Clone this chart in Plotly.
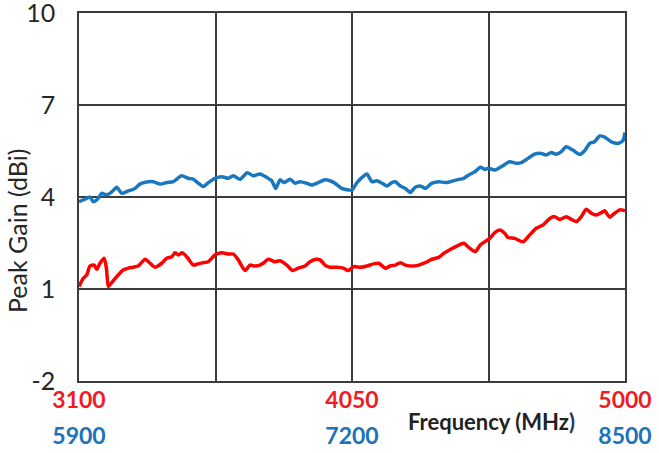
import plotly.graph_objects as go

# band 1 (red) : 3100-5000 MHz
red_freq = [3100, 3115, 3127, 3138, 3153, 3162, 3173, 3188, 3196, 3202,
            3214, 3231, 3254, 3272, 3289, 3306, 3330, 3347, 3364, 3388,
            3405, 3423, 3434, 3446, 3459, 3475, 3498, 3515, 3533, 3550,
            3573, 3597, 3620, 3637, 3654, 3678, 3695, 3712, 3730, 3741,
            3759, 3782, 3799, 3823, 3844, 3863, 3886, 3904, 3925, 3939,
            3956, 3973, 3997, 4020, 4037, 4056, 4079, 4102, 4125, 4143,
            4166, 4183, 4201, 4218, 4236, 4259, 4282, 4305, 4328, 4352,
            4369, 4392, 4415, 4439, 4456, 4479, 4497, 4529, 4547, 4564,
            4582, 4593, 4616, 4645, 4668, 4691, 4715, 4738, 4755, 4773,
            4796, 4813, 4831, 4848, 4865, 4883, 4900, 4918, 4929, 4947,
            4964, 4982, 5000]
red_gain = [1.08, 1.35, 1.46, 1.75, 1.78, 1.64, 1.84, 2.00, 1.62, 1.08,
            1.21, 1.40, 1.62, 1.68, 1.71, 1.75, 1.97, 1.84, 1.71, 1.84,
            2.00, 2.05, 2.18, 2.11, 2.18, 2.05, 1.78, 1.82, 1.86, 1.89,
            2.11, 2.18, 2.14, 2.14, 1.95, 1.60, 1.78, 1.75, 1.78, 1.84,
            1.97, 1.89, 1.92, 1.78, 1.60, 1.68, 1.75, 1.89, 1.97, 1.95,
            1.78, 1.71, 1.71, 1.68, 1.60, 1.73, 1.71, 1.75, 1.82, 1.84,
            1.68, 1.75, 1.78, 1.86, 1.78, 1.75, 1.78, 1.86, 1.97, 2.03,
            2.16, 2.29, 2.40, 2.49, 2.36, 2.22, 2.44, 2.65, 2.84, 2.92,
            2.81, 2.68, 2.65, 2.54, 2.76, 2.98, 3.09, 3.30, 3.36, 3.27,
            3.36, 3.27, 3.20, 3.36, 3.60, 3.47, 3.41, 3.49, 3.55, 3.34,
            3.47, 3.58, 3.55]

# band 2 (blue) : 5900-8500 MHz
blue_freq = [5900, 5929, 5952, 5968, 5992, 6008, 6032, 6056, 6080, 6103,
             6135, 6167, 6190, 6222, 6254, 6286, 6318, 6349, 6365, 6389,
             6420, 6444, 6468, 6492, 6516, 6548, 6580, 6611, 6635, 6667,
             6701, 6730, 6762, 6794, 6818, 6837, 6857, 6876, 6905, 6929,
             6952, 6984, 7008, 7040, 7071, 7095, 7119, 7151, 7182, 7200,
             7224, 7248, 7271, 7295, 7319, 7343, 7367, 7390, 7406, 7430,
             7454, 7478, 7501, 7525, 7549, 7581, 7613, 7644, 7668, 7700,
             7732, 7756, 7787, 7811, 7835, 7848, 7880, 7911, 7951, 7982,
             8006, 8038, 8070, 8101, 8125, 8149, 8173, 8197, 8220, 8252,
             8284, 8308, 8332, 8355, 8379, 8403, 8435, 8467, 8490, 8500]
blue_gain = [3.85, 3.93, 4.00, 3.85, 3.96, 4.12, 4.07, 4.17, 4.32, 4.12,
             4.20, 4.28, 4.42, 4.49, 4.50, 4.42, 4.47, 4.50, 4.58, 4.69,
             4.61, 4.58, 4.45, 4.34, 4.47, 4.61, 4.66, 4.61, 4.69, 4.58,
             4.79, 4.69, 4.75, 4.64, 4.53, 4.28, 4.56, 4.47, 4.58, 4.45,
             4.50, 4.45, 4.39, 4.47, 4.56, 4.53, 4.45, 4.28, 4.23, 4.23,
             4.47, 4.64, 4.75, 4.50, 4.53, 4.45, 4.36, 4.47, 4.50, 4.36,
             4.28, 4.15, 4.32, 4.36, 4.28, 4.45, 4.50, 4.47, 4.50, 4.56,
             4.61, 4.72, 4.83, 4.97, 4.90, 4.94, 4.88, 4.99, 5.15, 5.10,
             5.12, 5.26, 5.40, 5.42, 5.37, 5.45, 5.39, 5.48, 5.64, 5.53,
             5.39, 5.51, 5.75, 5.80, 5.99, 5.95, 5.80, 5.75, 5.84, 6.10]

red_ticks = [3100, 3575, 4050, 4525, 5000]
red_labels = ['3100', '', '4050', '', '5000']
blue_ticks = [5900, 7200, 8500]
blue_labels = ['5900', '7200', '8500']
y_ticks = [-2, 1, 4, 7, 10]
y_labels = ['-2', '1', '4', '7', '10']

RED = '#ff0000'
BLUE = '#1a76bd'
GRID = '#3c3c3c'

trace_red = go.Scatter(x=red_freq, y=red_gain, mode='lines',
                       line=dict(color=RED, width=3.5, shape='spline', smoothing=0.6),
                       xaxis='x', yaxis='y')
trace_blue = go.Scatter(x=blue_freq, y=blue_gain, mode='lines',
                        line=dict(color=BLUE, width=3.5, shape='spline', smoothing=0.6),
                        xaxis='x2', yaxis='y')

layout = go.Layout(
    width=659, height=453,
    margin=dict(l=79, r=34, t=13, b=72),
    paper_bgcolor='white', plot_bgcolor='white',
    showlegend=False,
    font=dict(family='Lato', color='#262626'),
    xaxis=dict(range=[3100, 5000], tickvals=red_ticks, ticktext=red_labels,
               showgrid=True, gridcolor=GRID, gridwidth=1.5, zeroline=False,
               showline=True, linecolor=GRID, linewidth=1.5, mirror=True,
               ticks='', ticklabelstandoff=-2, automargin=False,
               ticklabeloverflow='allow',
               tickfont=dict(family='Lato', size=23, color='#ee1c25', weight='bold')),
    xaxis2=dict(range=[5900, 8500], overlaying='x', side='bottom', anchor='y',
                tickvals=blue_ticks, ticktext=blue_labels, showgrid=False,
                zeroline=False, showline=False, ticks='', ticklabelstandoff=39,
                automargin=False, ticklabeloverflow='allow',
                tickfont=dict(family='Lato', size=23, color='#2072b8', weight='bold')),
    yaxis=dict(range=[-2, 10], tickvals=y_ticks, ticktext=y_labels,
               showgrid=True, gridcolor=GRID, gridwidth=1.5, zeroline=False,
               showline=True, linecolor=GRID, linewidth=1.5, mirror=True,
               ticks='', ticklabelstandoff=17, automargin=False,
               ticklabeloverflow='allow',
               tickfont=dict(family='Lato', size=25, color='#262626')),
    annotations=[
        dict(text='Peak Gain (dBi)', xref='paper', yref='paper', x=-0.1136, y=0.4076,
             textangle=-90, showarrow=False, xanchor='center', yanchor='middle',
             font=dict(family='Lato', size=25, color='#262626')),
        dict(text="Frequency (MHz<span style='color:#1f3864'>)</span>",
             xref='paper', yref='paper', x=0.7564, y=-0.11,
             showarrow=False, xanchor='center', yanchor='middle',
             font=dict(family='Lato', size=22, color='#222222', weight='bold')),
    ],
)

fig = go.Figure(data=[trace_red, trace_blue], layout=layout)
fig.write_html("out.html", config={'displayModeBar': False},
               post_script="document.body.style.margin='0';document.body.style.overflow='hidden';")
